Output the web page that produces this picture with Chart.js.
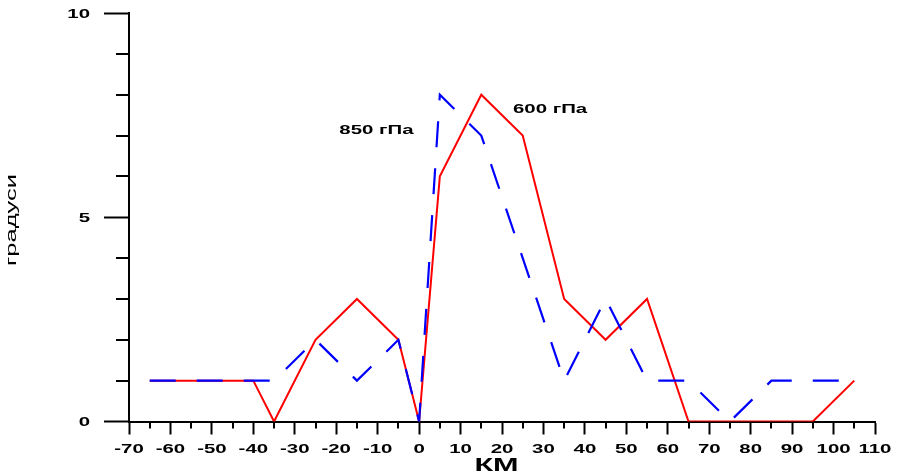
<!DOCTYPE html>
<html>
<head>
<meta charset="utf-8">
<title>градуси / КМ</title>
<script src="https://cdn.jsdelivr.net/npm/chart.js@4.4.1/dist/chart.umd.min.js"></script>
<style>
  html, body { margin: 0; padding: 0; background: #fff; }
  #c { display: block; }
</style>
</head>
<body>
<canvas id="c" width="902" height="471"></canvas>
<script>
// Distance (km) and angle (degrees) for the two pressure levels
const km600 = [-65, -55, -45, -40, -35, -25, -15, -5, 0, 5, 15, 25, 35, 45, 55, 65, 75, 85, 95, 105];
const deg600 = [1, 1, 1, 1, 0, 2, 3, 2, 0, 6, 8, 7, 3, 2, 3, 0, 0, 0, 0, 1];

const km850 = [-65, -55, -45, -35, -25, -15, -5, 0, 5, 15, 25, 35, 45, 55, 65, 75, 85, 95, 105];
const deg850 = [1, 1, 1, 1, 2, 1, 2, 0, 8, 7, 4, 1, 3, 1, 1, 0, 1, 1, 1];

// Axis ticks
const kmTicks = [-70, -60, -50, -40, -30, -20, -10, 0, 10, 20, 30, 40, 50, 60, 70, 80, 90, 100, 110];
const degTicks = [0, 5, 10];

// Series names and where their labels sit (km, degrees)
const seriesNames = ['850 гПа', '600 гПа'];
const nameAnchors = [[-10.3, 7.14], [31.6, 7.65]];

const toPoints = (xs, ys) => xs.map((x, i) => ({ x: x, y: ys[i] }));

// All text in this chart uses a broad, horizontally extended face
const WIDE = 1.7;
function wideText(ctx, text, x, y, font, align, rotate) {
  ctx.save();
  ctx.font = font;
  ctx.fillStyle = '#000';
  ctx.textAlign = align;
  ctx.textBaseline = 'alphabetic';
  ctx.translate(x, y);
  if (rotate) ctx.rotate(-Math.PI / 2);
  ctx.scale(WIDE, 1);
  ctx.fillText(text, 0, 0);
  ctx.restore();
}

const BOLD = 'bold 12px "Liberation Sans", Arial, sans-serif';

const axisDecor = {
  id: 'axisDecor',
  beforeDatasetsDraw(chart) {
    const { ctx, scales: { x, y }, chartArea: a } = chart;
    ctx.save();
    ctx.strokeStyle = '#000';
    ctx.lineWidth = 2;
    ctx.beginPath();
    // minor ticks: every 5 km between labelled ticks, every 1 degree
    for (let v = -65; v < 110; v += 10) {
      const px = Math.round(x.getPixelForValue(v));
      ctx.moveTo(px, a.bottom);
      ctx.lineTo(px, a.bottom + 7);
    }
    for (let v = 1; v < 10; v++) {
      if (v === 5) continue;
      const py = Math.round(y.getPixelForValue(v));
      ctx.moveTo(a.left - 13, py);
      ctx.lineTo(a.left, py);
    }
    ctx.stroke();
    ctx.restore();
  },
  afterDraw(chart) {
    const { ctx, scales: { x, y }, chartArea: a } = chart;
    x.ticks.forEach(t => {
      wideText(ctx, String(t.value), x.getPixelForValue(t.value), 453, BOLD, 'center');
    });
    y.ticks.forEach(t => {
      wideText(ctx, String(t.value), 90, y.getPixelForValue(t.value) + 4.5, BOLD, 'right');
    });
    // axis titles
    wideText(ctx, 'КМ', (a.left + a.right) / 2 - 5.5, 471, 'bold 18px "Liberation Sans", Arial, sans-serif', 'center');
    wideText(ctx, 'градуси', 16, 220, '15px "Liberation Sans", Arial, sans-serif', 'center', true);
    // series names
    seriesNames.forEach((name, i) => {
      const [kx, ky] = nameAnchors[i];
      wideText(ctx, name, x.getPixelForValue(kx), y.getPixelForValue(ky) + 4.5, BOLD, 'center');
    });
  }
};

new Chart(document.getElementById('c'), {
  type: 'line',
  data: {
    datasets: [
      {
        label: seriesNames[0],
        data: toPoints(km850, deg850),
        borderColor: '#0000ff',
        borderWidth: 2.2,
        borderDash: [26, 21],
        pointRadius: 0,
        tension: 0,
        fill: false,
        order: 1
      },
      {
        label: seriesNames[1],
        data: toPoints(km600, deg600),
        borderColor: '#ff0000',
        borderWidth: 2,
        pointRadius: 0,
        tension: 0,
        fill: false,
        order: 2
      }
    ]
  },
  options: {
    responsive: false,
    animation: false,
    events: [],
    layout: { padding: { top: 13, right: 27, left: 0, bottom: 0 } },
    plugins: { legend: { display: false }, tooltip: { enabled: false } },
    scales: {
      x: {
        type: 'linear',
        min: -70,
        max: 110,
        afterBuildTicks: s => { s.ticks = kmTicks.map(v => ({ value: v })); },
        afterFit: s => { s.height = 49.5; },
        ticks: { display: false },
        grid: { drawOnChartArea: false, drawTicks: true, tickLength: 13, tickWidth: 2, tickColor: '#000' },
        border: { display: true, color: '#000', width: 2 }
      },
      y: {
        min: 0,
        max: 10,
        afterBuildTicks: s => { s.ticks = degTicks.map(v => ({ value: v })); },
        afterFit: s => { s.width = 129; },
        ticks: { display: false },
        grid: { drawOnChartArea: false, drawTicks: true, tickLength: 25, tickWidth: 2, tickColor: '#000' },
        border: { display: true, color: '#000', width: 2 }
      }
    }
  },
  plugins: [axisDecor]
});
</script>
</body>
</html>
